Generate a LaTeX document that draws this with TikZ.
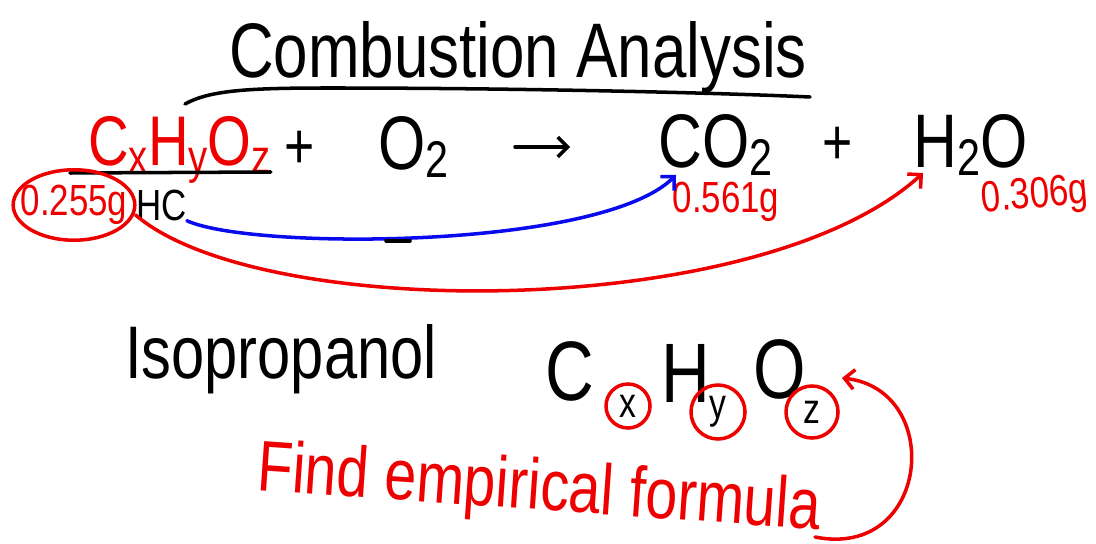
\documentclass[tikz,border=0pt]{standalone}
\usepackage{fontspec}
\newfontfamily\hand[FakeStretch=0.8]{Liberation Sans}
\usetikzlibrary{arrows.meta, positioning, calc}
\definecolor{inkred}{RGB}{238,0,0}
\definecolor{inkblue}{RGB}{10,10,238}
\newcommand\lowsub[1]{\raisebox{-0.1em}{\scalebox{0.68}{#1}}}

\begin{document}
\begin{tikzpicture}[
    x=0.025cm, y=-0.025cm,
    ink/.style={line width=2.5pt,line cap=round,line join=round},
    txt/.style={inner sep=0pt,font=\hand\fontsize{#1}{#1}\selectfont},
    subring/.style={circle,draw=inkred,ink,inner sep=0pt,
      font=\hand\fontsize{30}{30}\selectfont},
    arr/.style={ink,-{Straight Barb[length=7pt,width=14pt]}},
    >=Stealth
  ]
  \useasboundingbox (0,0) rectangle (1096,544);

  % Title
  \node[txt=55,anchor=base] (title) at (518,78) {Combustion Analysis};
  \draw[ink] (185,104) .. controls (210,90) and (250,88) .. (330,88)
    .. controls (500,88) and (700,92) .. (810,97);

  % Reaction line
  \node[txt=50,text=inkred,anchor=base west] (cxhyoz) at (88,166)
    {C\lowsub{x}H\lowsub{y}O\lowsub{z}};
  \draw[ink] ($(cxhyoz.base west)+(-18,7)$) -- ($(cxhyoz.base east)+(0,6)$);
  \node[txt=46] (plusa) at (300,150) {+};
  \node[txt=54,anchor=base west] (otwo) at (378,170) {O\lowsub{2}};
  \coordinate (rxa) at (515,147);
  \coordinate (rxb) at (570,147);
  \draw[arr] (rxa) -- (rxb);
  \node[txt=54,anchor=base west] (cotwo) at (658,168) {CO\lowsub{2}};
  \node[txt=46] (plusb) at (838,146) {+};
  \node[txt=54,anchor=base west] (htwoo) at (913,168) {H\lowsub{2}O};

  % Masses
  \node[txt=31,text=inkred] (mass) at (74,205) {0.255g};
  \draw[ink,inkred] (mass.center) ellipse [x radius=1.52cm, y radius=0.88cm];
  \node[txt=31,anchor=west] (hc) at (136,205) {HC};
  \node[txt=31,text=inkred] (mco) at (726,202) {0.561g};
  \node[txt=31,text=inkred,rotate=5] (mho) at (1035,197) {0.306g};

  % Connectors
  \draw[arr,inkblue] (hc.south east) .. controls (250,250) and (600,250)
    .. ($(cotwo.base west)+(18,7)$);
  \draw[ink] (386,241) -- (410,241);
  \draw[arr,inkred] ($(mass.east)+(8,10)$) .. controls (260,322) and (760,322)
    .. ($(htwoo.base west)+(10,5)$);

  % Isopropanol
  \node[txt=53,anchor=base west] (iso) at (125,378) {Isopropanol};

  % Empirical formula
  \node[txt=60,anchor=base] (bigc) at (570,400) {C};
  \node[subring,minimum size=1.1cm] (subx) at (628,406) {x};
  \node[txt=60,anchor=base] (bigh) at (686,402) {H};
  \node[subring,minimum size=1.35cm] (suby) at (718,412) {y};
  \node[txt=60,anchor=base] (bigo) at (780,398) {O};
  \node[subring,minimum size=1.3cm] (subz) at (812,412) {z};

  \node[txt=51,text=inkred,rotate=-4,anchor=base west] (find) at (256,490)
    {Find empirical formula};
  \coordinate (loopa) at (815,537);
  \coordinate (loopb) at (842,378);
  \draw[arr,inkred] (loopa) .. controls (930,560) and (945,390) .. (loopb);

\end{tikzpicture}
\end{document}
